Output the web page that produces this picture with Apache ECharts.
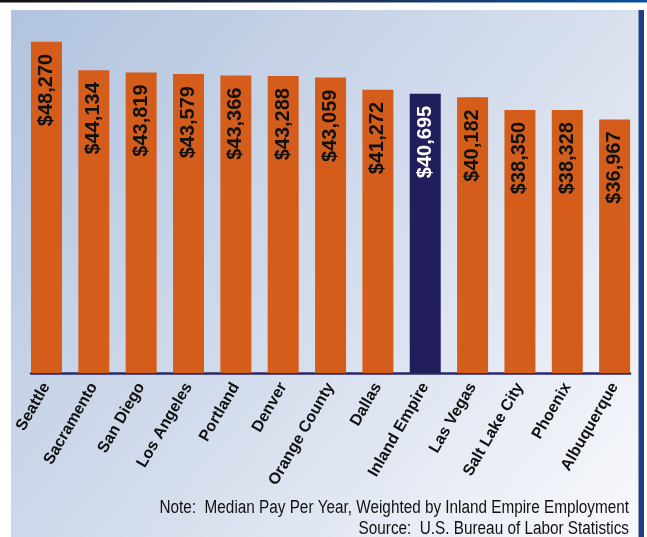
<!DOCTYPE html>
<html>
<head>
<meta charset="utf-8">
<script src="https://cdn.jsdelivr.net/npm/echarts@6/dist/echarts.min.js"></script>
<style>
  html, body { margin: 0; padding: 0; background: #fff; }
  #chart { width: 647px; height: 537px; }
</style>
</head>
<body>
<div id="chart"></div>
<script>
const cities = [
  "Seattle", "Sacramento", "San Diego", "Los Angeles", "Portland", "Denver",
  "Orange County", "Dallas", "Inland Empire", "Las Vegas", "Salt Lake City",
  "Phoenix", "Albuquerque",
];
const medianPay = [
  48270, 44134, 43819, 43579, 43366, 43288, 43059, 41272, 40695, 40182,
  38350, 38328, 36967,
];
const highlight = "Inland Empire";
const noteLines = [
  "Note:  Median Pay Per Year, Weighted by Inland Empire Employment",
  "Source:  U.S. Bureau of Labor Statistics",
];

const ORANGE = "#d45d1c";
const NAVY = "#221d5b";

const chart = echarts.init(document.getElementById("chart"));

// footnote text is condensed in the original; squeeze it horizontally
const noteText = (text, y) => ({
  type: "text",
  x: 629,
  y: y,
  scaleX: 0.85,
  style: {
    text: text,
    textAlign: "right",
    textVerticalAlign: "middle",
    font: "18px 'Liberation Sans', Arial, sans-serif",
    fill: "#111",
  },
});

chart.setOption({
  animation: false,
  textStyle: { fontFamily: "Liberation Sans, Arial, sans-serif" },
  grid: [
    { left: 22.8, right: 8.7, top: 30, bottom: 164 },
    // only used to draw the baseline from first to last bar edge
    { left: 31, right: 17, top: 30, bottom: 164 },
  ],
  xAxis: [
    {
      type: "category",
      data: cities,
      gridIndex: 0,
      axisLine: { show: false },
      axisTick: { show: false },
      axisLabel: {
        interval: 0,
        rotate: 60,
        margin: 11,
        color: "#111",
        fontSize: 16,
        fontWeight: "bold",
      },
    },
    {
      type: "value",
      gridIndex: 1,
      min: 0,
      max: 1,
      axisLine: { show: true, lineStyle: { color: "#2b2868", width: 2.5 } },
      axisTick: { show: false },
      axisLabel: { show: false },
      splitLine: { show: false },
    },
  ],
  yAxis: [
    { type: "value", gridIndex: 0, min: 0, max: 50000, show: false },
    { type: "value", gridIndex: 1, min: 0, max: 1, show: false },
  ],
  graphic: [
    {
      type: "rect",
      z: -1,
      shape: { x: 0, y: 0, width: 647, height: 2.5 },
      style: {
        fill: new echarts.graphic.LinearGradient(0, 0, 1, 0, [
          { offset: 0, color: "#111" },
          { offset: 0.5, color: "#1c3050" },
          { offset: 1, color: "#0c4f9f" },
        ]),
      },
    },
    {
      type: "rect",
      z: -1,
      shape: { x: 11, y: 10, width: 627.5, height: 527 },
      style: {
        fill: new echarts.graphic.LinearGradient(0, 0, 1, 1, [
          { offset: 0, color: "#b1c3df" },
          { offset: 0.5, color: "#d3dcec" },
          { offset: 1, color: "#f8f9fc" },
        ]),
      },
    },
    {
      type: "rect",
      z: -1,
      shape: { x: 638.5, y: 10, width: 5.5, height: 527 },
      style: { fill: "#1f3f82" },
    },
    noteText(noteLines[0], 508),
    noteText(noteLines[1], 529),
  ],
  series: [
    {
      type: "bar",
      xAxisIndex: 0,
      yAxisIndex: 0,
      barWidth: 31,
      data: medianPay.map((v, i) => {
        const isHome = cities[i] === highlight;
        return {
          value: v,
          itemStyle: { color: isHome ? NAVY : ORANGE },
          label: { color: isHome ? "#fff" : "#111" },
        };
      }),
      label: {
        show: true,
        position: "insideTop",
        rotate: 90,
        align: "right",
        verticalAlign: "middle",
        distance: 12,
        fontSize: 20,
        fontWeight: "bold",
        formatter: (p) => "$" + p.value.toLocaleString("en-US"),
      },
    },
  ],
});
</script>
</body>
</html>
